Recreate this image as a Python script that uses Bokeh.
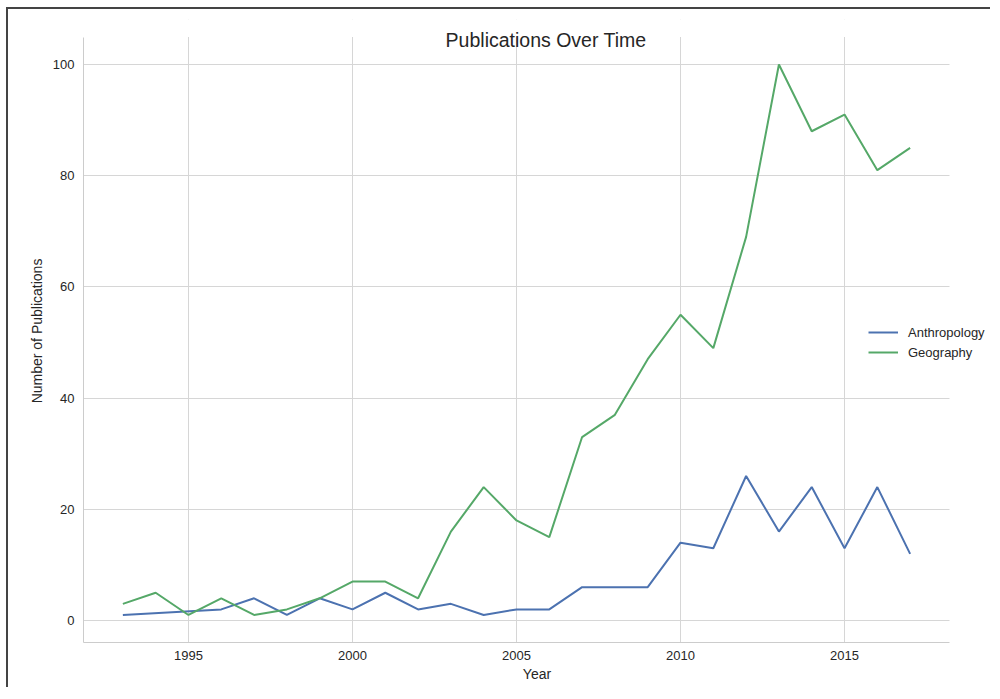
from bokeh.plotting import figure
from bokeh.models import Legend, LegendItem, Label, FixedTicker, Range1d, BoxAnnotation
from bokeh.embed import file_html
from bokeh.resources import INLINE

# ---- data ----
anthro_years = [1993, 1996, 1997, 1998, 1999, 2000, 2001, 2002, 2003, 2004, 2005,
                2006, 2007, 2008, 2009, 2010, 2011, 2012, 2013, 2014, 2015, 2016, 2017]
anthro_counts = [1, 2, 4, 1, 4, 2, 5, 2, 3, 1, 2,
                 2, 6, 6, 6, 14, 13, 26, 16, 24, 13, 24, 12]
geo_years = [1993, 1994, 1995, 1996, 1997, 1998, 1999, 2000, 2001, 2002, 2003, 2004,
             2005, 2006, 2007, 2008, 2009, 2010, 2011, 2012, 2013, 2014, 2015, 2016, 2017]
geo_counts = [3, 5, 1, 4, 1, 2, 4, 7, 7, 4, 16, 24,
              18, 15, 33, 37, 47, 55, 49, 69, 100, 88, 91, 81, 85]
x_ticks = [1995, 2000, 2005, 2010, 2015]
y_ticks = [0, 20, 40, 60, 80, 100]

FONT = "Liberation Sans"
TXT = "#262626"
GRID = "#d6d6d6"

X0, X1 = 1991.8, 2018.2
Y0, Y1 = -3.95, 104.95

p = figure(width=984, height=680, output_backend="svg", toolbar_location=None,
           x_range=Range1d(X0, 2019.45), y_range=Range1d(Y0, 108.1),
           min_border_left=75, min_border_right=2, min_border_top=10,
           min_border_bottom=47)
p.styles = {"border-top": "2px solid #444444", "border-left": "2px solid #444444",
            "margin-left": "6px", "margin-top": "7px"}
p.outline_line_color = None
p.background_fill_color = "white"

l1 = p.line(anthro_years, anthro_counts, line_color="#4C72B0", line_width=2)
l2 = p.line(geo_years, geo_counts, line_color="#55A868", line_width=2)

for ax in (p.xaxis[0], p.yaxis[0]):
    ax.axis_line_color = "#cccccc"
    ax.axis_line_width = 1
    ax.major_tick_line_color = None
    ax.minor_tick_line_color = None
    ax.major_label_text_font = FONT
    ax.major_label_text_font_size = "13px"
    ax.major_label_text_color = TXT
    ax.axis_label_text_font = FONT
    ax.axis_label_text_font_size = "14px"
    ax.axis_label_text_font_style = "normal"
    ax.axis_label_text_color = TXT

p.xaxis.bounds = (X0, X1)
p.yaxis.bounds = (Y0, Y1)
p.xaxis.ticker = FixedTicker(ticks=x_ticks)
p.yaxis.ticker = FixedTicker(ticks=y_ticks)
p.xaxis.axis_label = "Year"
p.yaxis.axis_label = "Number of Publications"
p.xaxis.major_label_standoff = 2
p.yaxis.major_label_standoff = 3
p.xaxis.axis_label_standoff = 3
p.yaxis.axis_label_standoff = 5

p.xgrid.grid_line_color = GRID
p.ygrid.grid_line_color = GRID
p.xgrid.grid_line_width = 1
p.ygrid.grid_line_width = 1

# white masks so that grid lines stop at the axes' edges
p.add_layout(BoxAnnotation(left=X1, fill_color="white", fill_alpha=1,
                           line_color=None, level="underlay"))
p.add_layout(BoxAnnotation(bottom=Y1, fill_color="white", fill_alpha=1,
                           line_color=None, level="underlay"))

title = Label(x=2005.9, y=104.35, text="Publications Over Time",
              text_font=FONT, text_font_size="19.5px", text_color=TXT,
              text_align="center", text_baseline="alphabetic")
p.add_layout(title)

legend = Legend(items=[LegendItem(label="Anthropology", renderers=[l1]),
                       LegendItem(label="Geography", renderers=[l2])],
                location=(785, 280), glyph_width=30, glyph_height=20,
                label_height=20, label_standoff=10, spacing=0, padding=0,
                margin=0, border_line_color=None, background_fill_alpha=0,
                label_text_font=FONT, label_text_font_size="13px",
                label_text_color=TXT)
p.add_layout(legend)

open("out.html", "w").write(file_html(p, INLINE))
